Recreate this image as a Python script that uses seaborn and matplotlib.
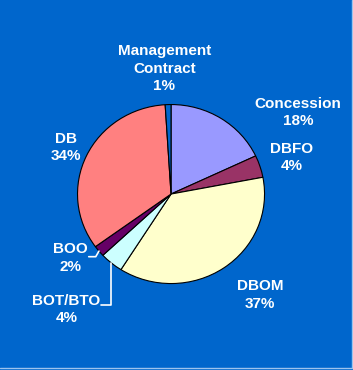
import numpy as np
import seaborn as sns
import matplotlib.pyplot as plt
from matplotlib.lines import Line2D

# Data
categories = ["Concession", "DBFO", "DBOM", "BOT/BTO", "BOO", "DB", "Management\nContract"]
shares = [18, 4, 37, 4, 2, 34, 1]
colors = ["#9999FF", "#993366", "#FFFFCC", "#CCFFFF", "#660066", "#FF8080", "#0066CC"]

# Label placement (data units, pie radius = 1)
label_pos = {
    "Concession": (1.36, 0.91),
    "DBFO": (1.29, 0.41),
    "DBOM": (0.95, -1.13),
    "BOT/BTO": (-1.12, -1.29),
    "BOO": (-1.08, -0.715),
    "DB": (-1.12, 0.52),
    "Management\nContract": (-0.07, 1.40),
}

sns.set_theme(style="white")
plt.rcParams['font.family'] = ['Liberation Sans', 'DejaVu Sans']

bg = "#0066CC"
fig = plt.figure(figsize=(3.53, 3.70), dpi=100, facecolor=bg)
ax = fig.add_axes([0, 0, 1, 1])
ax.set_facecolor(bg)

wedges, _ = ax.pie(shares, colors=colors, startangle=90, counterclock=False,
                   wedgeprops=dict(edgecolor="black", linewidth=0.8))

# slightly wider than tall, like the original
ax.set_aspect('auto')
ax.set_xlim(-1.829, 1.946)
ax.set_ylim(-1.966, 2.168)
ax.axis('off')

for w, cat, val in zip(wedges, categories, shares):
    x, y = label_pos[cat]
    ax.text(x, y, f"{cat}\n{val}%", color="white", fontsize=11, fontweight="bold",
            ha="center", va="center", linespacing=1.33)

# leader lines for the two small slices on the lower left
for cat, start, angB in [("BOO", (-0.88, -0.70), 60), ("BOT/BTO", (-0.75, -1.24), 90)]:
    w = wedges[categories.index(cat)]
    mid = np.deg2rad((w.theta1 + w.theta2) / 2)
    ax.annotate("", xy=(np.cos(mid), np.sin(mid)), xytext=start,
                arrowprops=dict(arrowstyle="-", color="white", lw=1.2,
                                shrinkA=0, shrinkB=0,
                                connectionstyle=f"angle,angleA=0,angleB={angB},rad=0"))

# thin frame edges
fig.add_artist(Line2D([0.996, 0.996], [0.005, 1], transform=fig.transFigure, color="#9CC3EE", lw=1))
fig.add_artist(Line2D([0, 0.996], [0.005, 0.005], transform=fig.transFigure, color="#9CC3EE", lw=1))

plt.savefig("out.png", dpi=100, facecolor=bg)
plt.close()
